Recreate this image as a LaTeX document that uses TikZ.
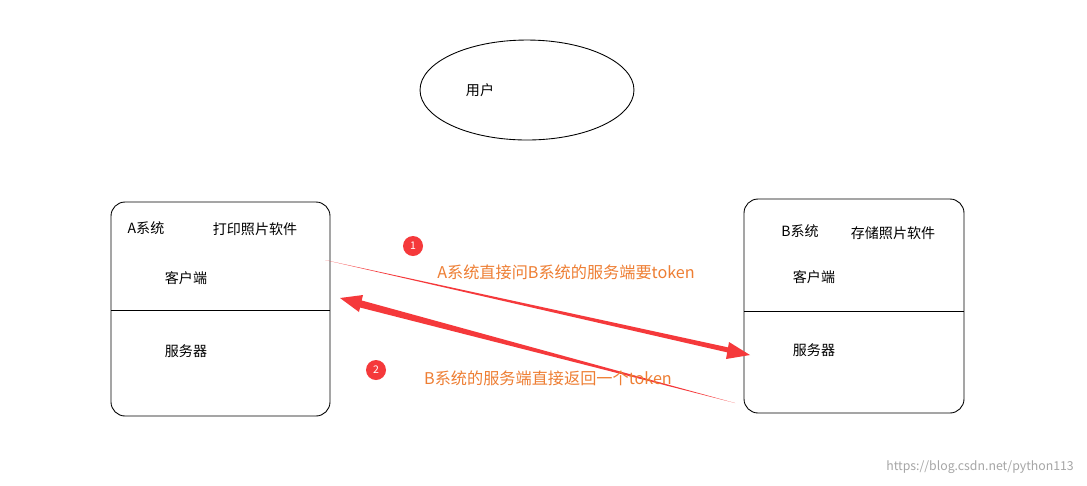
\documentclass[tikz,border=0pt]{standalone}
\usepackage{fontspec}
\setmainfont{Noto Sans CJK SC}
\usetikzlibrary{shapes.geometric}
\definecolor{redar}{HTML}{F5393B}
\definecolor{orangetxt}{HTML}{EE7E33}
\tikzset{
  lbl/.style={font=\fontsize{8}{9}\selectfont, text=black},
  olbl/.style={font=\fontsize{9.2}{10}\selectfont, text=orangetxt},
  sysbox/.style={draw, rounded corners=8pt, line width=0.5pt},
  num/.style={circle, fill=redar, text=white, inner sep=0pt, minimum size=0.4cm, font=\fontsize{6}{7}\selectfont}
}
\begin{document}
\begin{tikzpicture}[x=0.02cm,y=-0.02cm]
\useasboundingbox (0,0) rectangle (1087,485);
\fill[white] (0,0) rectangle (1087,485);
\node[draw, ellipse, minimum width=4.28cm, minimum height=2cm, line width=0.5pt] (user) at (527,90) {};
\node[lbl] (ut) at (480,90) {用户};
% box A
\draw[sysbox] (111,202) rectangle (330,416);
\coordinate (aL) at (111,310); \coordinate (aR) at (330,310);
\draw[line width=0.5pt] (aL) -- (aR);
\node[lbl] (at) at (146,228) {A系统};
\node[lbl] (asw) at (255,229) {打印照片软件};
\node[lbl] (ac) at (186,278) {客户端};
\node[lbl] (as) at (186,351) {服务器};
% box B
\draw[sysbox] (744,199) rectangle (964,413);
\coordinate (bL) at (744,311); \coordinate (bR) at (964,311);
\draw[line width=0.5pt] (bL) -- (bR);
\node[lbl] (bt) at (800,231) {B系统};
\node[lbl] (bsw) at (893,233) {存储照片软件};
\node[lbl] (bc) at (814,277) {客户端};
\node[lbl] (bs) at (814,350) {服务器};
% arrow 1 tapered
\coordinate (s1) at (325,260); \coordinate (e1) at (750,355);
\fill[redar] (s1) -- (731,348) -- (730,353) -- cycle;
\fill[redar] (e1) -- (729,342) -- (726,359) -- cycle;
% arrow 2 tapered
\coordinate (s2) at (735,403); \coordinate (e2) at (340,298);
\fill[redar] (s2) -- (360,300) -- (358,307) -- cycle;
\fill[redar] (e2) -- (363,295) -- (359,312) -- cycle;
\node[num] (n1) at (413,246) {1};
\node[num] (n2) at (376,370) {2};
\node[olbl] (t1) at (566,272) {A系统直接问B系统的服务端要token};
\node[olbl] (t2) at (548,378) {B系统的服务端直接返回一个token};
\node[font=\fontsize{7}{8}\selectfont, text=gray!70, anchor=east] (wm) at (1080,467) {https://blog.csdn.net/python113};
\end{tikzpicture}
\end{document}
